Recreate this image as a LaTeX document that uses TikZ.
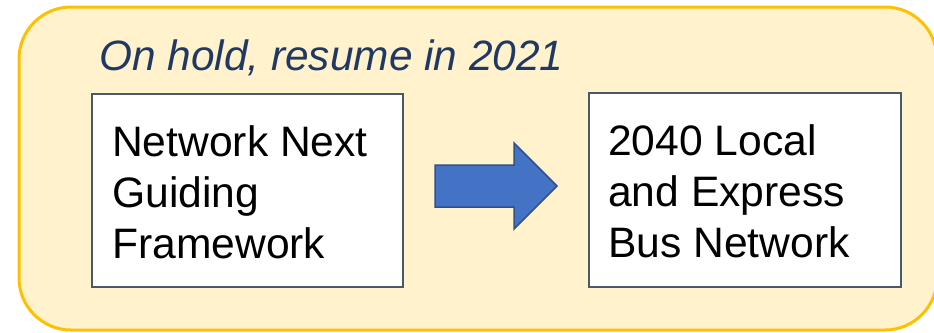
\documentclass[tikz,border=0pt]{standalone}
\usepackage{fontspec}
\setmainfont{Liberation Sans}
\definecolor{panelfill}{HTML}{FFF2CC}
\definecolor{paneldraw}{HTML}{FFC000}
\definecolor{titleblue}{HTML}{1F3864}
\definecolor{boxdraw}{HTML}{4A586B}
\definecolor{arrowfill}{HTML}{4472C4}
\definecolor{arrowdraw}{HTML}{2F528F}
\tikzset{
  panel/.style={draw=paneldraw, line width=3pt, fill=panelfill, rounded corners=52pt},
  stagebox/.style={draw=boxdraw, line width=2pt, fill=white, inner sep=0pt},
  stagetext/.style={anchor=north west, inner sep=0pt, align=left, text=black,
    font=\fontsize{42.6}{51}\selectfont},
  titletext/.style={anchor=base west, inner sep=0pt, text=titleblue,
    font=\itshape\fontsize{42.4}{51}\selectfont},
  blockarrow/.style={draw=arrowdraw, line width=1.5pt, fill=arrowfill, line join=miter}
}
\begin{document}
\begin{tikzpicture}[x=1pt,y=-1pt]
\useasboundingbox (0,0) rectangle (934,332);
\draw[panel] (19,7) rectangle (937,330);
\node[titletext] (title) at (99,70) {On hold, resume in 2021};
\node[stagebox, minimum width=311pt, minimum height=193pt] (left) at (247.5,190.5) {};
\node[stagebox, minimum width=312pt, minimum height=194pt] (right) at (745,190) {};
\node[stagetext] (lefttext) at (112,125) {Network Next\\Guiding\\Framework};
\node[stagetext] (righttext) at (608,124) {2040 Local\\and Express\\Bus Network};
\draw[blockarrow] (435,165) -- (514,165) -- (514,143) -- (557,186) -- (514,229) -- (514,207) -- (435,207) -- cycle;
\end{tikzpicture}
\end{document}
